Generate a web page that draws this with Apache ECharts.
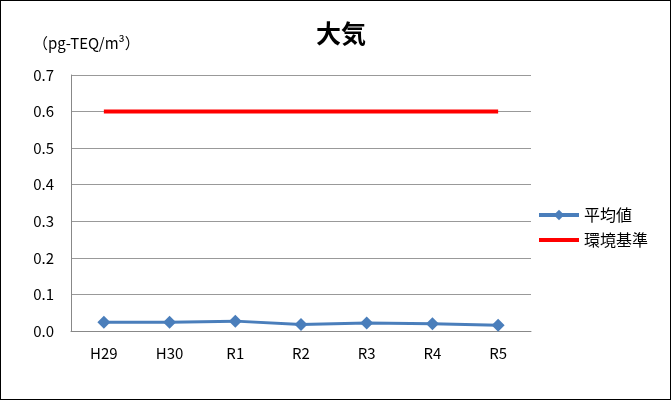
<!DOCTYPE html>
<html>
<head>
<meta charset="utf-8">
<script src="https://cdn.jsdelivr.net/npm/echarts@6/dist/echarts.min.js"></script>
<style>
  html, body { margin: 0; padding: 0; background: #fff; }
  #chart { width: 671px; height: 400px; box-sizing: border-box; border: 1px solid #000; }
</style>
</head>
<body>
<div id="chart"></div>
<script>
var categories = ['H29', 'H30', 'R1', 'R2', 'R3', 'R4', 'R5'];
var averageValues = [0.024, 0.024, 0.027, 0.018, 0.022, 0.020, 0.016];
var standardValues = [0.6, 0.6, 0.6, 0.6, 0.6, 0.6, 0.6];
var seriesNames = ['平均値', '環境基準'];

var font = '"Noto Sans CJK JP", sans-serif';

var chart = echarts.init(document.getElementById('chart'));
chart.setOption({
  animation: false,
  backgroundColor: '#fff',
  title: {
    text: '大気',
    left: 335,
    textAlign: 'center',
    top: 15,
    textStyle: { fontFamily: font, fontSize: 25, fontWeight: 'bold', color: '#000' }
  },
  graphic: [{
    type: 'text',
    left: 32,
    top: 35,
    style: { text: '（pg-TEQ/m³）', fontFamily: font, fontSize: 15, fill: '#000' }
  }],
  legend: {
    orient: 'vertical',
    left: 531,
    top: 201,
    itemWidth: 40,
    itemHeight: 13,
    itemGap: 9,
    data: [
      { name: seriesNames[0], lineStyle: { width: 4 } },
      { name: seriesNames[1], lineStyle: { width: 4 }, itemStyle: { opacity: 0 } }
    ],
    textStyle: { fontFamily: font, fontSize: 16, color: '#000' }
  },
  grid: { left: 70, top: 74, right: 139, bottom: 68 },
  xAxis: {
    type: 'category',
    data: categories,
    boundaryGap: true,
    axisLine: { lineStyle: { color: '#888', width: 1 } },
    axisTick: { inside: true, length: 5, lineStyle: { color: '#888' } },
    axisLabel: { fontFamily: font, fontSize: 15, color: '#000', margin: 15 }
  },
  yAxis: {
    type: 'value',
    min: 0,
    max: 0.7,
    interval: 0.1,
    axisLine: { show: true, lineStyle: { color: '#888' } },
    axisTick: { show: false },
    splitLine: { lineStyle: { color: '#999', width: 1 } },
    axisLabel: {
      fontFamily: font, fontSize: 15, color: '#000', margin: 17,
      formatter: function (v) { return v.toFixed(1); }
    }
  },
  series: [
    {
      name: seriesNames[0],
      type: 'line',
      data: averageValues,
      symbol: 'diamond',
      symbolSize: 13,
      lineStyle: { color: '#4A7EBB', width: 3 },
      itemStyle: { color: '#4A7EBB' },
      z: 3
    },
    {
      name: seriesNames[1],
      type: 'line',
      data: standardValues,
      symbol: 'none',
      lineStyle: { color: '#FF0000', width: 4 },
      itemStyle: { color: '#FF0000' },
      z: 2
    }
  ]
});
</script>
</body>
</html>
